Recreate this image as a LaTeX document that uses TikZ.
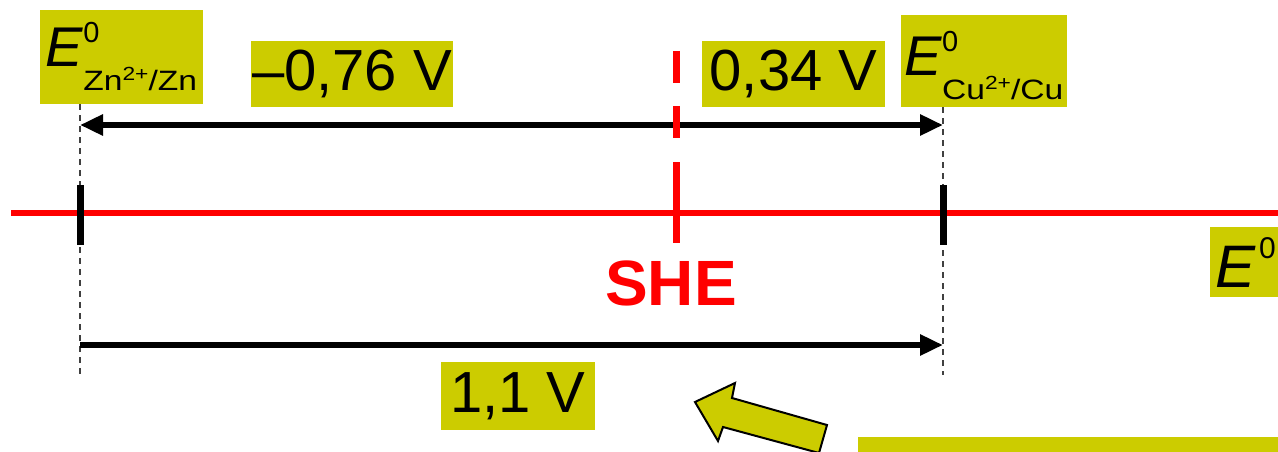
\documentclass[tikz,border=0pt]{standalone}
\usepackage{fontspec}
\setmainfont{Liberation Sans}
\usetikzlibrary{arrows.meta, positioning}
\definecolor{hilite}{RGB}{204,204,0}
\newcommand{\fs}[1]{\fontsize{#1}{#1}\selectfont}
% E^0 with ion/metal couple as subscript
\newcommand{\Epot}[3]{\rule{0pt}{#3}{\fs{56}\itshape E}\rlap{\raisebox{24pt}{\fs{29}0}}%
  \raisebox{-24pt}{\scalebox{1.2}[1]{\fs{28}#1\raisebox{10pt}{\fs{19}2+}/#2}}}

\begin{document}
\begin{tikzpicture}[x=1pt, y=-1pt, >={Triangle[length=23pt, width=20pt]},
    box/.style={fill=hilite, inner sep=0pt, font=\fs{58}},
    guide/.style={black!75, line width=1.5pt, dash pattern=on 6pt off 5pt},
    span/.style={line width=6pt}]
  \useasboundingbox (0,0) rectangle (1278,452);

  % Potential axis
  \draw[red, line width=6pt] (11,213) -- (1278,213);
  \node[box, anchor=north west, inner xsep=5pt, minimum height=70pt] (axis) at (1210,227)
    {{\fs{60}\itshape E}\hspace{4pt}\raisebox{29pt}{\fs{30}0}\hspace*{10pt}};

  % Electrode labels
  \node[box, minimum width=163pt, minimum height=94pt] (zn) at (121.5,57) {\Epot{Zn}{Zn}{0pt}};
  \node[box, minimum width=166pt, minimum height=92pt] (cu) at (984,61) {\Epot{Cu}{Cu}{54pt}};
  \coordinate (zeroL) at (80,375);
  \coordinate (zeroR) at (943,375);
  \draw[guide] (zn.south -| zeroL) -- (zeroL);
  \draw[guide] (cu.south -| zeroR) -- (zeroR);

  % Ticks
  \draw[line width=7pt] (80,185) -- (80,245);
  \draw[line width=7pt] (943,185) -- (943,245);

  % Half-cell potentials
  \coordinate (topL) at (80,125);
  \coordinate (topR) at (943,125);
  \draw[span, <->] (topL) -- (topR);
  \node[box, minimum width=202pt, minimum height=66pt] (negval) at (352,74) {–0,76 V};
  \node[box, minimum width=183pt, minimum height=66pt] (posval) at (793.5,74) {0,34 V};

  % SHE reference
  \draw[red, line width=7pt, dash pattern=on 32pt off 23pt on 32pt off 24pt on 81pt]
    (676,51) -- (676,243);
  \node[font=\fs{64}\bfseries, text=red, inner sep=0pt] (she) at (671,283) {SHE};

  % Cell voltage
  \coordinate (botL) at (80,345);
  \coordinate (botR) at (943,345);
  \draw[span, ->] (botL) -- (botR);
  \node[box, minimum width=154pt, minimum height=68pt] (cellval) at (518,396) {1,1 V};

  % Block arrow and bar
  \draw[fill=hilite, line width=2pt, line join=miter]
    (695,402) -- (735,383) -- (732,398) -- (827,425) -- (819,453)
    -- (723,427) -- (718,441) -- cycle;
  \fill[hilite] (858,437) rectangle (1290,460);
\end{tikzpicture}
\end{document}
